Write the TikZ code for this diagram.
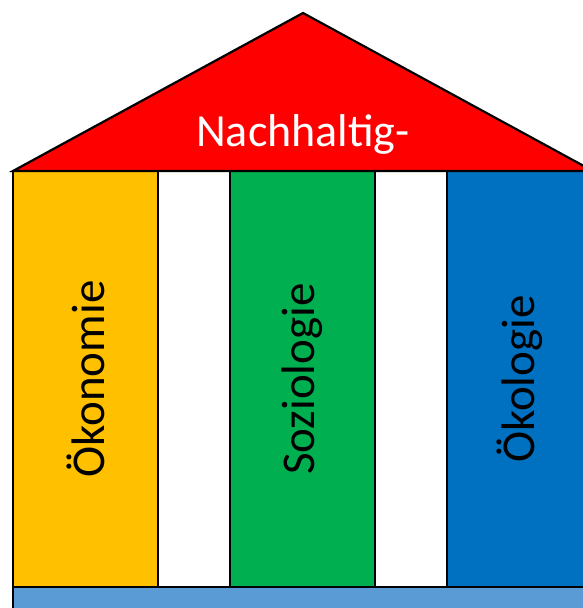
\documentclass[tikz,border=0pt]{standalone}
\usepackage{fontspec}
\setmainfont{Carlito}
\definecolor{roofred}{HTML}{FF0000}
\definecolor{colyellow}{HTML}{FFC000}
\definecolor{colgreen}{HTML}{00B050}
\definecolor{colblue}{HTML}{0070C0}
\definecolor{baseblue}{HTML}{5B9BD5}
\begin{document}
\begin{tikzpicture}[x=1pt,y=1pt,
  part/.style={draw=black,line width=2.2pt},
  collabel/.style={rotate=90,font=\fontsize{47}{54}\selectfont,text=black,inner sep=0pt}]
\useasboundingbox (0,0) rectangle (582,608);
\fill[white] (0,0) rectangle (582,608);
% base
\draw[part,fill=baseblue] (13,-20) rectangle (620,21);
% columns
\draw[part,fill=colyellow] (13,21) rectangle (158,437);
\draw[part,fill=colgreen] (230,21) rectangle (375,437);
\draw[part,fill=colblue] (447,21) rectangle (592,437);
% roof
\draw[part,fill=roofred,line join=miter] (13,437) -- (303,595) -- (593,437) -- cycle;
\node[anchor=base,text=white,font=\fontsize{46}{54}\selectfont,inner sep=0pt] (roof) at (303,461) {Nachhaltig-};
\node[collabel] (oek) at (85.5,229) {Ökonomie};
\node[collabel] (soz) at (302.5,229) {Soziologie};
\node[collabel] (oko) at (519.5,229) {Ökologie};
\end{tikzpicture}
\end{document}
